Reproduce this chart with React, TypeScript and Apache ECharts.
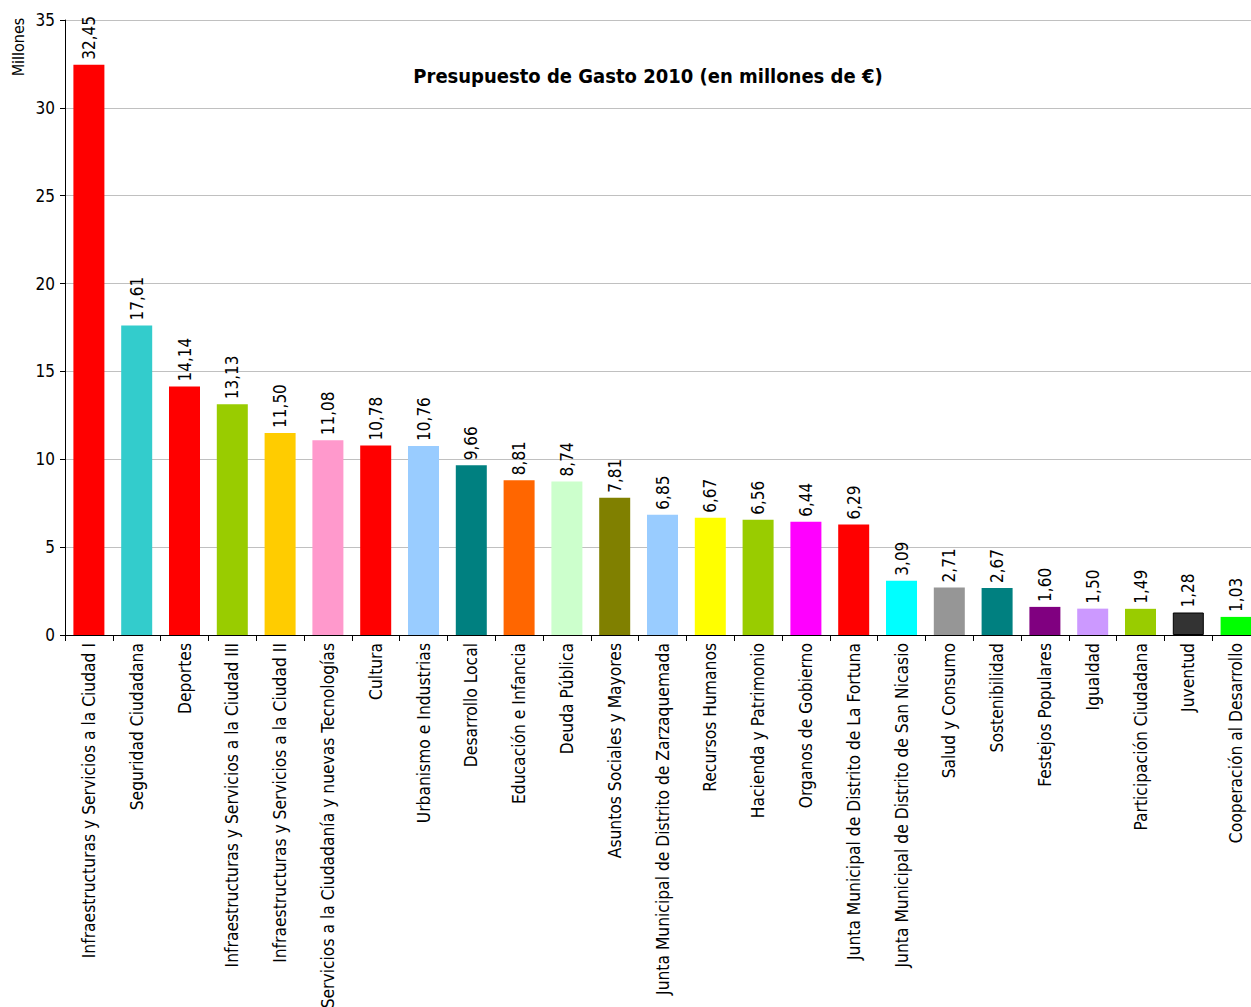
import React, { useEffect, useRef } from "react";
import * as echarts from "echarts";

const categories = [
  "Infraestructuras y Servicios a la Ciudad I",
  "Seguridad Ciudadana",
  "Deportes",
  "Infraestructuras y Servicios a la Ciudad III",
  "Infraestructuras y Servicios a la Ciudad II",
  "Servicios a la Ciudadanía y nuevas Tecnologías",
  "Cultura",
  "Urbanismo e Industrias",
  "Desarrollo Local",
  "Educación e Infancia",
  "Deuda Pública",
  "Asuntos Sociales y Mayores",
  "Junta Municipal de Distrito de Zarzaquemada",
  "Recursos Humanos",
  "Hacienda y Patrimonio",
  "Organos de Gobierno",
  "Junta Municipal de Distrito de La Fortuna",
  "Junta Municipal de Distrito de San Nicasio",
  "Salud y Consumo",
  "Sostenibilidad",
  "Festejos Populares",
  "Igualdad",
  "Participación Ciudadana",
  "Juventud",
  "Cooperación al Desarrollo",
];

const values = [
  32.45, 17.61, 14.14, 13.13, 11.5, 11.08, 10.78, 10.76, 9.66, 8.81, 8.74, 7.81,
  6.85, 6.67, 6.56, 6.44, 6.29, 3.09, 2.71, 2.67, 1.6, 1.5, 1.49, 1.28, 1.03,
];

const colors = [
  "#FF0000", "#33CCCC", "#FF0000", "#99CC00", "#FFCC00", "#FF99CC", "#FF0000",
  "#99CCFF", "#008080", "#FF6600", "#CCFFCC", "#808000", "#99CCFF", "#FFFF00",
  "#99CC00", "#FF00FF", "#FF0000", "#00FFFF", "#969696", "#008080", "#800080",
  "#CC99FF", "#99CC00", "#333333", "#00FF00",
];

const yTicks = [0, 5, 10, 15, 20, 25, 30, 35];

const FONT = "DejaVu Sans Condensed";

export default function App() {
  const ref = useRef<HTMLDivElement>(null);
  useEffect(() => {
    document.body.style.margin = "0";
    const chart = echarts.init(ref.current!, undefined, { renderer: "svg" });
    chart.setOption({
      animation: false,
      backgroundColor: "#ffffff",
      textStyle: { fontFamily: FONT },
      title: {
        text: "Presupuesto de Gasto 2010 (en millones de €)",
        left: 643,
        top: 61,
        textAlign: "center",
        textStyle: { fontFamily: FONT, fontSize: 20, fontWeight: "bold", color: "#000" },
      },
      graphic: [
        {
          type: "text",
          x: 18,
          y: 47,
          rotation: Math.PI / 2,
          style: {
            text: "Millones",
            font: `16px "${FONT}"`,
            fill: "#000",
            align: "center",
            verticalAlign: "middle",
          },
        },
      ],
      grid: {
        left: 65,
        width: 1195,
        top: 20,
        height: 615,
        containLabel: false,
        outerBoundsMode: "none",
      },
      xAxis: {
        type: "category",
        data: categories,
        axisLine: { lineStyle: { color: "#000", width: 1 } },
        axisTick: { show: true, length: 6, lineStyle: { color: "#000" } },
        axisLabel: {
          interval: 0,
          rotate: 90,
          margin: 8,
          fontSize: 17.3,
          color: "#000",
          fontFamily: FONT,
        },
      },
      yAxis: {
        type: "value",
        min: 0,
        max: yTicks[yTicks.length - 1],
        interval: 5,
        axisLine: { show: true, lineStyle: { color: "#000" } },
        axisTick: { show: true, length: 5, lineStyle: { color: "#000" } },
        axisLabel: { fontSize: 17, color: "#000", margin: 10, fontFamily: FONT },
        splitLine: { lineStyle: { color: "#C0C0C0", width: 1 } },
      },
      series: [
        {
          type: "bar",
          barWidth: 31,
          data: values.map((v, i) => ({
            value: v,
            itemStyle: {
              color: colors[i],
              borderColor: i === 23 ? "#000" : undefined,
              borderWidth: i === 23 ? 1 : 0,
            },
          })),
          label: {
            show: true,
            position: "top",
            rotate: 90,
            align: "left",
            verticalAlign: "middle",
            distance: 5,
            fontSize: 17,
            color: "#000",
            fontFamily: FONT,
            formatter: (p: any) => p.value.toFixed(2).replace(".", ","),
          },
        },
      ],
    });
    return () => chart.dispose();
  }, []);
  return <div ref={ref} style={{ width: 1251, height: 1007, overflow: "hidden" }} />;
}
